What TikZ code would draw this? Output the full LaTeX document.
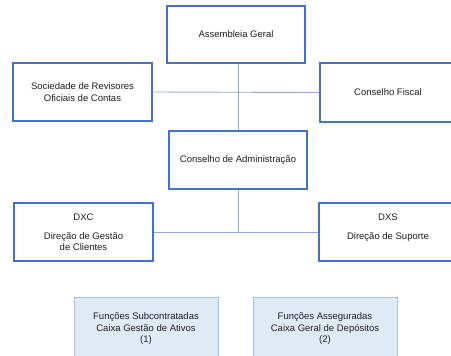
\documentclass[tikz,border=0pt]{standalone}
\usepackage{fontspec}
\setmainfont{Liberation Sans}
\definecolor{boxline}{HTML}{4472C4}
\definecolor{conn}{HTML}{8FAADC}
\definecolor{lightline}{HTML}{9DC3E6}
\definecolor{lightfill}{HTML}{DEEBF7}
\definecolor{txt}{HTML}{1F1F1F}
\begin{document}
\begin{tikzpicture}[x=1pt,y=-1pt,
  every node/.style={font=\fontsize{9.5}{11.5}\selectfont, text=txt, align=center, inner sep=0pt},
  orgbox/.style={draw=boxline, line width=1.3pt, fill=white, rectangle},
  funcbox/.style={draw=lightline, line width=1pt, fill=lightfill, rectangle, minimum width=144pt, minimum height=64pt},
  link/.style={draw=conn, line width=0.9pt}]
\useasboundingbox (0,0) rectangle (451,356);
\clip (0,0) rectangle (451,356);
\node[orgbox, minimum width=138pt, minimum height=57pt] (ag) at (236,34.5) {Assembleia Geral};
\node[orgbox, minimum width=139pt, minimum height=58pt] (soc) at (82.5,92) {Sociedade de Revisores\\Oficiais de Contas};
\node[orgbox, minimum width=136pt, minimum height=59pt] (cf) at (388,92.5) {Conselho Fiscal};
\node[orgbox, minimum width=138pt, minimum height=58pt] (ca) at (238,160) {Conselho de Administração};
\node[orgbox, minimum width=139pt, minimum height=58pt] (dxc) at (83.5,232) {DXC\\[7.5pt]Direção de Gestão\\de Clientes};
\node[orgbox, minimum width=138pt, minimum height=58pt] (dxs) at (388,232) {DXS\\[7.5pt]Direção de Suporte\\\mbox{}};
\coordinate (j2) at (ca.south |- dxc.east);
\path[link] (ca.north) -- (ca.north |- ag.south);
\path[link] (soc.east) -- (cf.west);
\path[link] (ca.south) -- (j2);
\path[link] (dxc.east) -- (dxs.west);
\node[funcbox] (f1) at (146,329) {Funções Subcontratadas\\Caixa Gestão de Ativos\\(1)};
\node[funcbox] (f2) at (325,329) {Funções Asseguradas\\Caixa Geral de Depósitos\\(2)};
\end{tikzpicture}
\end{document}
